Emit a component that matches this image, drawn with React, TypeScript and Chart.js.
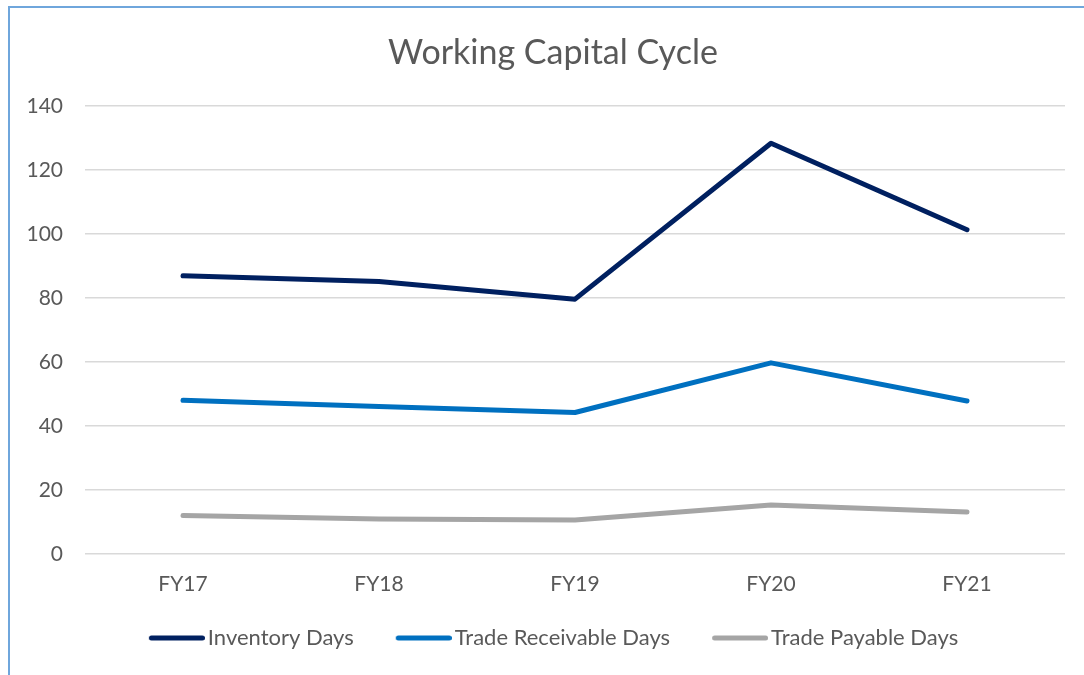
import React, { useEffect, useRef } from "react";
import { Chart, registerables } from "chart.js";

Chart.register(...registerables);

const chartTitle = "Working Capital Cycle";
const categories = ["FY17", "FY18", "FY19", "FY20", "FY21"];
const seriesNames = ["Inventory Days", "Trade Receivable Days", "Trade Payable Days"];
const inventoryDays = [86.9, 85.1, 79.6, 128.3, 101.3];
const receivableDays = [48.0, 46.1, 44.2, 59.7, 47.8];
const payableDays = [12.0, 10.9, 10.6, 15.3, 13.1];
const yMin = 0;
const yMax = 140;
const yStep = 20;

const seriesColors = ["#002060", "#0070C0", "#A5A5A5"];
const FONT = "Lato, 'Open Sans', sans-serif";
const TEXT = "#595959";

// legend marker: a rounded line drawn in the right part of a wider image
function makeLegendLine(color: string): HTMLCanvasElement {
  const c = document.createElement("canvas");
  c.width = 96;
  c.height = 8;
  const ctx = c.getContext("2d");
  if (ctx) {
    ctx.strokeStyle = color;
    ctx.lineWidth = 5;
    ctx.lineCap = "round";
    ctx.beginPath();
    ctx.moveTo(42.5, 4);
    ctx.lineTo(93.5, 4);
    ctx.stroke();
  }
  return c;
}

const titleShift = {
  id: "titleShift",
  afterLayout(chart: any) {
    const t = chart.titleBlock;
    if (t) {
      t.left += 31;
    }
  },
};

export default function App() {
  const canvasRef = useRef<HTMLCanvasElement | null>(null);

  useEffect(() => {
    const canvas = canvasRef.current;
    if (!canvas) return;
    const values = [inventoryDays, receivableDays, payableDays];
    const markers = seriesColors.map(makeLegendLine);
    const chart = new Chart(canvas, {
      type: "line",
      data: {
        labels: categories,
        datasets: seriesNames.map((name, i) => ({
          label: name,
          data: values[i],
          borderColor: seriesColors[i],
          backgroundColor: seriesColors[i],
          borderWidth: 5,
          borderCapStyle: "round",
          borderJoinStyle: "round",
          pointRadius: 0,
          pointHoverRadius: 0,
          tension: 0,
          fill: false,
        })),
      },
      plugins: [titleShift],
      options: {
        responsive: false,
        animation: false,
        layout: { padding: { left: 0, right: 19, top: 0, bottom: 16 } },
        plugins: {
          title: {
            display: true,
            text: chartTitle,
            color: TEXT,
            font: { family: FONT, size: 34, weight: "normal" },
            padding: { top: 25, bottom: 32 },
          },
          legend: {
            position: "bottom",
            labels: {
              usePointStyle: true,
              pointStyleWidth: 80,
              boxHeight: 22,
              color: TEXT,
              font: { family: FONT, size: 22 },
              padding: 10,
              generateLabels: (c: any) =>
                Chart.defaults.plugins.legend.labels
                  .generateLabels(c)
                  .map((it: any, i: number) => ({ ...it, pointStyle: markers[i] })),
            },
          },
          tooltip: { enabled: false },
        },
        scales: {
          x: {
            offset: true,
            grid: { display: false },
            border: { display: false },
            ticks: {
              color: TEXT,
              font: { family: FONT, size: 21 },
              padding: 10,
            },
            afterFit: (s: any) => {
              s.height = 63;
            },
          },
          y: {
            min: yMin,
            max: yMax,
            grid: { color: "#D9D9D9", lineWidth: 1.5, drawTicks: false },
            border: { display: false },
            ticks: {
              stepSize: yStep,
              color: TEXT,
              font: { family: FONT, size: 21 },
              padding: 22,
            },
            afterFit: (s: any) => {
              s.width = 75;
            },
          },
        },
      },
    });
    return () => chart.destroy();
  }, []);

  return (
    <div
      style={{
        position: "absolute",
        left: 8,
        top: 6,
        width: 1076,
        height: 669,
        boxSizing: "border-box",
        borderTop: "2px solid #6FA6DC",
        borderLeft: "2px solid #6FA6DC",
        background: "#fff",
        overflow: "hidden",
      }}
    >
      <canvas ref={canvasRef} width={1074} height={667} style={{ display: "block" }} />
    </div>
  );
}
